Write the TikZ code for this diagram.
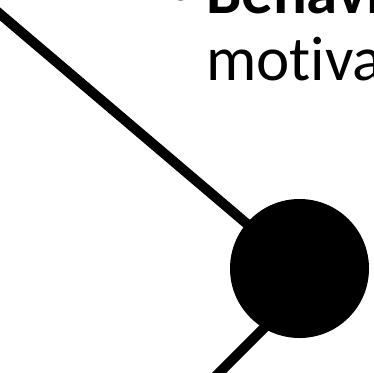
\documentclass[tikz,border=0pt]{standalone}
\usepackage{fontspec}
\setmainfont[Ligatures=NoCommon]{Carlito}
\usetikzlibrary{positioning}

\begin{document}
\begin{tikzpicture}[x=1pt,y=1pt,line width=10pt]
    \tikzset{
      ball/.style={circle, fill=black, inner sep=0pt, minimum size=139pt},
      slide/.style={anchor=base west, inner sep=0pt, font=\fontsize{63}{67}\selectfont}
    }
    \useasboundingbox (0,0) rectangle (374,-372);
    % text of the slide, cut at the edge
    \node[slide] (bullet) at (160,-7) {•};
    \node[slide] (title) at (201,-13) {\textbf{Behavi}};
    \node[slide] (word) at (201,-80) {motiva};
    % stick and ball
    \coordinate (hub) at (299.5,-268.5);
    \coordinate (head) at (-10,-5.5);
    \coordinate (tail) at (212,-380);
    \coordinate (knot) at (282,-310);
    \draw (head) -- (hub);
    \draw (tail) -- (knot);
    \node[ball] (ball) at (hub) {};
  \end{tikzpicture}
\end{document}
